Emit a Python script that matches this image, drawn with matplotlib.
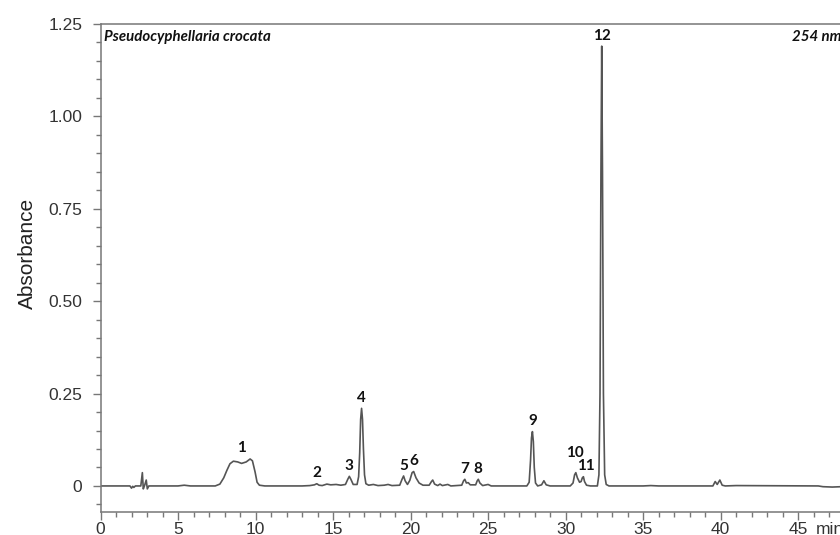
import numpy as np
import matplotlib.pyplot as plt
from matplotlib.ticker import MultipleLocator, FixedFormatter, FixedLocator

# chromatogram trace (retention time in min, absorbance)
rt = [0.0, 1.9, 2.0, 2.08, 2.15, 2.25, 2.6, 2.7, 2.76, 2.85, 2.95, 3.02, 3.12,
      5.0, 5.4, 5.8, 7.4, 7.7, 7.95, 8.15, 8.35, 8.57, 8.85, 9.1, 9.4, 9.65,
      9.8, 9.97, 10.1, 10.25, 10.6,
      13.0, 13.5, 13.8, 13.95, 14.1, 14.3, 14.6, 14.85, 15.2, 15.5, 15.8,
      15.95, 16.05, 16.15, 16.3, 16.55, 16.65, 16.72, 16.78, 16.84, 16.9,
      16.96, 17.03, 17.12, 17.3, 17.6, 17.9, 18.3, 18.55, 18.8, 19.3, 19.45,
      19.55, 19.65, 19.8, 19.95, 20.1, 20.2, 20.35, 20.55, 20.8, 21.2, 21.35,
      21.43, 21.55, 21.75, 21.9, 22.05, 22.4, 22.6, 23.3, 23.42, 23.5, 23.6,
      23.72, 23.85, 24.2, 24.3, 24.37, 24.47, 24.65, 25.0, 25.2,
      27.5, 27.65, 27.74, 27.8, 27.86, 27.92, 27.98, 28.06, 28.2, 28.45,
      28.6, 28.75, 29.0, 30.3, 30.48, 30.58, 30.66, 30.76, 30.9, 31.0, 31.08,
      31.15, 31.22, 31.35, 31.6, 32.05, 32.15, 32.22, 32.28, 32.33, 32.38,
      32.44, 32.52, 32.62, 32.8, 35.0, 35.5, 36.0, 39.5, 39.65, 39.78, 39.95,
      40.1, 40.3, 41.0, 46.3, 46.6, 47.2, 47.8]
absorb = [0.0, 0.0, -0.006, -0.001, -0.004, 0.0, 0.0, 0.036, -0.008, 0.002,
          0.016, -0.008, 0.0,
          0.0, 0.002, 0.0, 0.0, 0.005, 0.022, 0.042, 0.06, 0.067, 0.065,
          0.061, 0.065, 0.073, 0.068, 0.038, 0.01, 0.002, 0.0,
          0.0, 0.001, 0.003, 0.006, 0.002, 0.001, 0.005, 0.003, 0.004, 0.002,
          0.004, 0.018, 0.026, 0.018, 0.004, 0.004, 0.025, 0.09, 0.18, 0.21,
          0.18, 0.10, 0.03, 0.006, 0.002, 0.004, 0.001, 0.002, 0.004, 0.001,
          0.002, 0.018, 0.027, 0.014, 0.004, 0.015, 0.036, 0.039, 0.022,
          0.008, 0.002, 0.002, 0.012, 0.016, 0.005, 0.001, 0.005, 0.001,
          0.004, 0.0, 0.002, 0.014, 0.018, 0.008, 0.009, 0.003, 0.003, 0.014,
          0.018, 0.008, 0.001, 0.004, 0.0,
          0.0, 0.01, 0.07, 0.13, 0.147, 0.12, 0.05, 0.008, 0.0, 0.003, 0.014,
          0.003, 0.0, 0.0, 0.008, 0.03, 0.036, 0.022, 0.01, 0.012, 0.022,
          0.025, 0.012, 0.002, 0.0, 0.0, 0.03, 0.25, 0.85, 1.19, 0.85, 0.25,
          0.03, 0.004, 0.0, 0.0, 0.001, 0.0, 0.0, 0.012, 0.004, 0.016, 0.002,
          0.0, 0.001, 0.0, -0.002, -0.003, -0.002]

# numbered peaks: id, retention time, apex height
peak_ids = ['1', '2', '3', '4', '5', '6', '7', '8', '9', '10', '11', '12']
peak_rt = [9.07, 13.95, 16.05, 16.84, 19.55, 20.2, 23.5, 24.37, 27.86, 30.62, 31.2, 32.33]
peak_h = [0.074, 0.006, 0.026, 0.21, 0.027, 0.039, 0.018, 0.018, 0.147, 0.036, 0.025, 1.19]

yticks = [0, 0.25, 0.50, 0.75, 1.00, 1.25]
ytick_labels = ['0', '0.25', '0.50', '0.75', '1.00', '1.25']

fig = plt.figure(figsize=(8.4, 5.35), dpi=100)
ax = fig.add_axes([100.5/840, 23/535, 739.5/840, 488/535])

ax.plot(rt, absorb, color='#555555', lw=1.2)

ax.set_xlim(0, 47.7)
ax.set_ylim(-0.0705, 1.25)

ax.xaxis.set_major_locator(MultipleLocator(5))
ax.xaxis.set_minor_locator(MultipleLocator(1))
ax.yaxis.set_major_locator(FixedLocator(yticks))
ax.yaxis.set_major_formatter(FixedFormatter(ytick_labels))
ax.yaxis.set_minor_locator(MultipleLocator(0.05))

for s in ['left', 'bottom', 'top']:
    ax.spines[s].set_color('#777777')
    ax.spines[s].set_linewidth(1.1)
ax.spines['right'].set_visible(False)

ax.tick_params(which='both', direction='out', color='#777777', width=1.0,
               labelcolor='#333333', labelsize=12.5)
ax.tick_params(which='major', length=6)
ax.tick_params(which='minor', length=3.5)
ax.tick_params(axis='x', pad=1.5)
ax.tick_params(axis='y', pad=7)
for lab in ax.get_xticklabels() + ax.get_yticklabels():
    lab.set_family('Liberation Sans')

ax.set_ylabel('Absorbance', family='Liberation Sans', fontsize=15,
              color='#222222')
ax.yaxis.set_label_coords(-0.086, 0.53)

ax.annotate('min', xy=(47.05, 0), xycoords=('data', 'axes fraction'),
            xytext=(0, -7.5), textcoords='offset points', ha='center', va='top',
            family='Liberation Sans', fontsize=12.5, color='#333333')

# peak numbers
for pid, t, h in zip(peak_ids, peak_rt, peak_h):
    off = 0.035 if pid == '10' else 0.009
    dx = 0.12 if pid == '11' else 0
    ax.text(t + dx, h + off, pid, ha='center', va='bottom', fontsize=11,
            fontweight='bold', family='Lato', color='#111111')

ax.text(0.005, 0.987, 'Pseudocyphellaria crocata', transform=ax.transAxes,
        ha='left', va='top', fontsize=10.8, fontweight='bold', style='italic',
        family='Lato', color='#111111')
ax.text(0.935, 0.987, '254 nm', transform=ax.transAxes, ha='left', va='top',
        fontsize=10.8, fontweight='bold', style='italic', family='Lato',
        color='#111111')

fig.savefig('out.png', dpi=100)
